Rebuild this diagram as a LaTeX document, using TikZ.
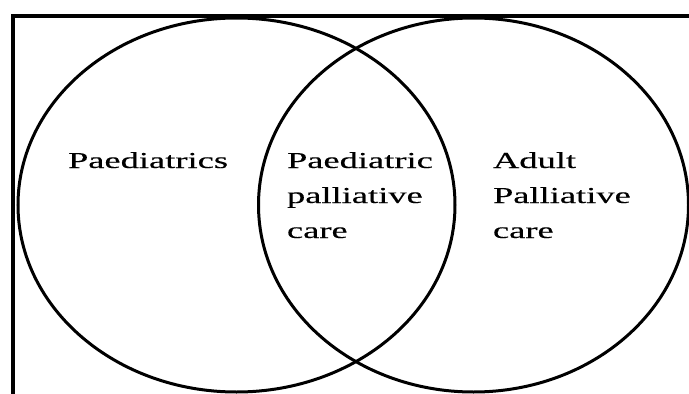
\documentclass[tikz,border=0pt]{standalone}
\usepackage{fontspec}
\setmainfont{Liberation Serif}
\newfontfamily\lblfont[FakeBold=0.2]{Liberation Serif}
\usepackage{graphicx}
\usetikzlibrary{shapes.geometric}
\begin{document}
\begin{tikzpicture}[x=1pt,y=1pt,
  ring/.style={draw=black,line width=3pt,ellipse,inner sep=0pt,outer sep=0pt},
  frameline/.style={draw=black,line width=4pt},
  lbl/.style={anchor=base west,inner sep=0pt,outer sep=0pt,font=\lblfont\fontsize{22.8}{35}\selectfont}]
\useasboundingbox[fill=white] (0,0) rectangle (689,-394);
\coordinate (fa) at (689,-15.5);
\coordinate (fb) at (13,-15.5);
\coordinate (fc) at (13,-394);
\draw[frameline] (fa) -- (fb) -- (fc);
\node[ring,minimum width=437pt,minimum height=374pt] (left) at (236.5,-205) {};
\node[ring,minimum width=430pt,minimum height=374pt] (right) at (473.5,-205) {};
\node[lbl] (ped) at (68,-168) {\scalebox{1.6}[1]{Paediatrics}};
\node[lbl] (ppc) at (287,-168) {\scalebox{1.6}[1]{\begin{tabular}[t]{@{}l@{}}Paediatric\\palliative\\care\end{tabular}}};
\node[lbl] (apc) at (493,-168) {\scalebox{1.6}[1]{\begin{tabular}[t]{@{}l@{}}Adult\\Palliative\\care\end{tabular}}};
\end{tikzpicture}
\end{document}
